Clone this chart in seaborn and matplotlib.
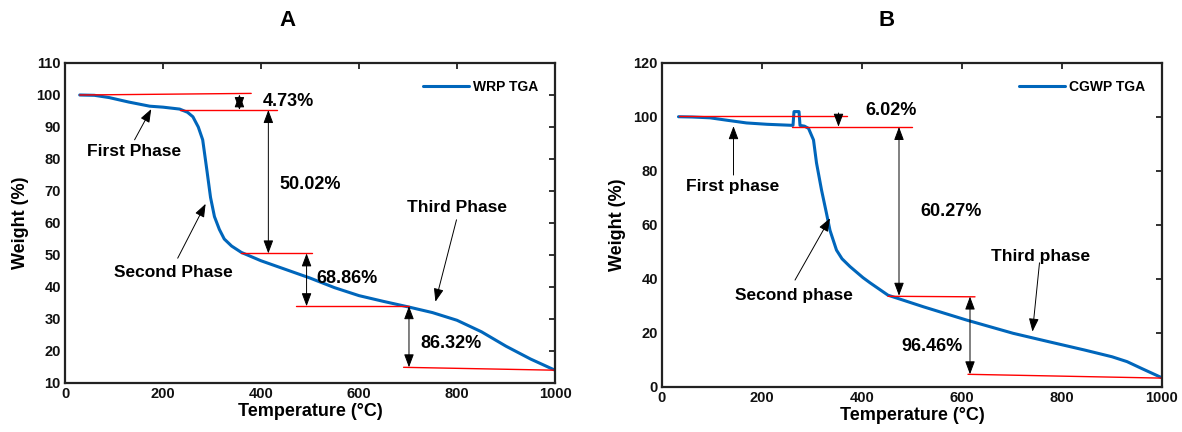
import numpy as np
import pandas as pd
import matplotlib
matplotlib.use("Agg")
import matplotlib.pyplot as plt
import seaborn as sns

# WRP TGA curve (panel A)
wrp_temp = [30, 60, 90, 130, 173, 200, 234, 250, 261, 272, 281, 290, 297, 305, 315,
            325, 340, 360, 400, 450, 500, 550, 600, 650, 700, 750, 800, 850, 900, 950, 1000]
wrp_weight = [100, 99.9, 99.2, 97.8, 96.5, 96.2, 95.6, 94.6, 93.2, 90, 86, 76, 68, 62, 58,
              55, 52.8, 50.8, 48.2, 45.5, 42.8, 39.8, 37.3, 35.5, 33.8, 32.0, 29.6, 26.0, 21.5, 17.5, 14.0]

# CGWP TGA curve (panel B), includes the small spike near 265 C
cgwp_temp = [33, 60, 96, 130, 169, 210, 249, 262, 263, 264, 274, 275, 276, 285, 293, 303, 309,
             319, 329, 336, 349, 360, 376, 402, 416, 452, 523, 609, 702, 773, 845, 900, 930, 960, 1000]
cgwp_weight = [100.1, 100, 99.7, 98.8, 97.8, 97.3, 97.0, 96.9, 99.5, 102, 102, 99.5, 96.9, 96.6, 95.8, 91.5, 83,
               73, 64.3, 58, 50.7, 47.5, 44.6, 40.5, 38.6, 34, 29.7, 24.8, 19.9, 16.8, 13.7, 11.2, 9.4, 6.8, 3.4]

# red reference lines: (x0, x1, y0, y1)
wrp_red = [(30, 380, 100.0, 100.5), (234, 433, 95.3, 95.3), (359, 505, 50.5, 50.5),
           (471, 702, 34.0, 34.0), (691, 1000, 14.9, 14.0)]
cgwp_red = [(33, 369, 100.4, 100.4), (259, 499, 96.3, 96.3), (452, 626, 33.6, 33.4),
            (612, 998, 4.7, 3.3)]

# double arrows (x, y_top, y_bottom) and their labels (text, x, y, ha)
wrp_arrows = [(356, 100.2, 95.3), (415, 95.3, 50.5), (493, 50.5, 34.0), (702, 34.0, 14.9)]
wrp_pct = [("4.73%", 403, 97.9, "left"), ("50.02%", 438, 71.9, "left"),
           ("68.86%", 512, 42.7, "left"), ("86.32%", 725, 22.4, "left")]
cgwp_arrows = [(474, 96.3, 33.8), (616, 33.5, 4.7)]
cgwp_pct = [("6.02%", 458, 102.5, "center"), ("60.27%", 516, 65, "left"),
            ("96.46%", 539, 15, "center")]

# phase labels: (text, text_x, text_y, tail_x, tail_y, tip_x, tip_y)
wrp_phase = [("First Phase", 140, 82.3, 142, 86, 176, 95.6),
             ("Second Phase", 222, 44.4, 230, 49, 287, 66),
             ("Third Phase", 801, 65, 799, 61, 756, 35.4)]
cgwp_phase = [("First phase", 142, 74.2, 143, 78.5, 143, 96.6),
              ("Second phase", 264, 34.0, 266, 39.6, 336, 62.5),
              ("Third phase", 757, 48.3, 755, 46, 741, 20.5)]

sns.set_style("white")
plt.rcParams['font.family'] = ['Liberation Sans', 'DejaVu Sans']
plt.rcParams['font.weight'] = 'bold'
plt.rcParams['axes.labelweight'] = 'bold'
plt.rcParams['text.color'] = 'black'
plt.rcParams['axes.labelcolor'] = 'black'

blue = "#0066BB"
head = "-|>,head_length=0.8,head_width=0.3"
head2 = "<|-|>,head_length=0.8,head_width=0.3"
fig = plt.figure(figsize=(11.82, 4.32), dpi=100)
axA = fig.add_axes([65 / 1182, 1 - 383 / 432, 490 / 1182, 320 / 432])
axB = fig.add_axes([662 / 1182, 1 - 387 / 432, 500 / 1182, 324 / 432])


def draw(ax, temp, weight, name, red, arrows, pcts, phases, ylim, yticks):
    df = pd.DataFrame({"Temperature": temp, "Weight": weight})
    sns.lineplot(data=df, x="Temperature", y="Weight", ax=ax, color=blue, lw=2.2,
                 sort=False, estimator=None, label=name)
    for x0, x1, y0, y1 in red:
        ax.plot([x0, x1], [y0, y1], color="red", lw=1.0)
    for x, yt, yb in arrows:
        ax.annotate("", xy=(x, yb), xytext=(x, yt),
                    arrowprops=dict(arrowstyle=head2, color="black", lw=0.7,
                                    shrinkA=0, shrinkB=0))
    for t, x, y, ha in pcts:
        ax.text(x, y, t, ha=ha, va="center", fontsize=13, fontweight="bold")
    for t, tx, ty, ax0, ay0, ax1, ay1 in phases:
        ax.text(tx, ty, t, ha="center", va="center", fontsize=12.5, fontweight="bold")
        ax.annotate("", xy=(ax1, ay1), xytext=(ax0, ay0),
                    arrowprops=dict(arrowstyle=head, color="black", lw=0.7,
                                    shrinkA=0, shrinkB=0))
    ax.set_xlim(0, 1000)
    ax.set_ylim(*ylim)
    ax.set_xticks(range(0, 1001, 200))
    ax.set_yticks(yticks)
    ax.set_xlabel("Temperature (\u00b0C)", fontsize=13, fontweight="bold", labelpad=1)
    ax.set_ylabel("Weight (%)", fontsize=13, fontweight="bold", labelpad=5)
    ax.tick_params(direction="in", length=4, width=1.3, top=True, right=True,
                   labelsize=10.5, pad=3, colors="#222222")
    for lab in ax.get_xticklabels() + ax.get_yticklabels():
        lab.set_fontweight("bold")
        lab.set_color("#111111")
    for s in ax.spines.values():
        s.set_linewidth(1.6)
        s.set_color("#222222")
    leg = ax.legend(loc="upper right", frameon=False, fontsize=10, handlelength=3.3,
                    handletextpad=0.3, borderaxespad=0.8)
    for t in leg.get_texts():
        t.set_fontweight("bold")


draw(axA, wrp_temp, wrp_weight, "WRP TGA", wrp_red, wrp_arrows, wrp_pct, wrp_phase,
     (10, 110), range(10, 111, 10))
draw(axB, cgwp_temp, cgwp_weight, "CGWP TGA", cgwp_red, cgwp_arrows, cgwp_pct, cgwp_phase,
     (0, 120), range(0, 121, 20))

# short down arrow for 6.02%
axB.annotate("", xy=(353, 96.4), xytext=(353, 101.5),
             arrowprops=dict(arrowstyle=head, color="black", lw=0.7, shrinkA=0, shrinkB=0))

fig.text(288 / 1182, 1 - 20 / 432, "A", ha="center", va="center", fontsize=16, fontweight="bold")
fig.text(887 / 1182, 1 - 20 / 432, "B", ha="center", va="center", fontsize=16, fontweight="bold")

fig.savefig("out.png", dpi=100)
